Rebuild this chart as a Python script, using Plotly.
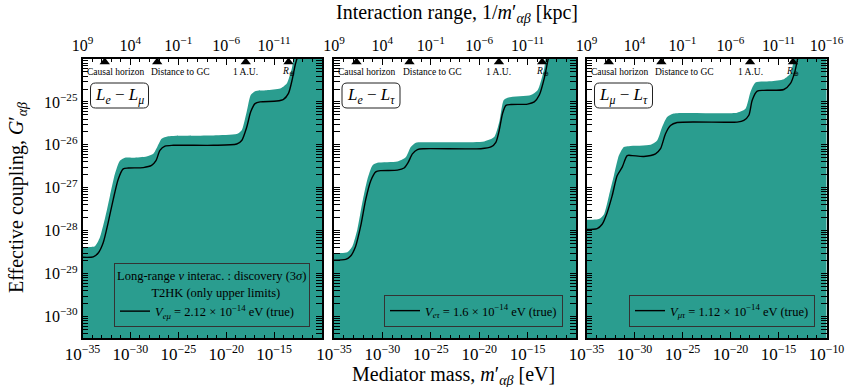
import math
import plotly.graph_objects as go

# ---- axis ranges (log10 units) ----
LOGM_RANGE = [-35, -10]      # mediator mass [eV]
LOGG_RANGE = [-30.5, -24]    # effective coupling
KPC_RANGE = [9, -16]         # interaction range [kpc]

# ---- L_e - L_mu ----
em_line_logm = [-35, -33.88, -33.36, -32.84, -32.32, -31.79, -31.27, -30.75, -30.23, -28.66, -27.79,
                -27.33, -26.92, -26.39, -25.52, -21.34, -18.90, -18.38, -17.86, -17.44, -16.99, -16.46,
                -14.72, -14.02, -13.50, -13.08, -12.80, -12.56]
em_line_logG = [-28.62, -28.61, -28.52, -28.28, -27.81, -27.27, -26.80, -26.56, -26.54, -26.53, -26.48,
                -26.37, -26.13, -26.03, -26.01, -26.01, -25.98, -25.90, -25.59, -25.23, -25.04, -25.00,
                -24.98, -24.94, -24.80, -24.45, -24.14, -23.95]
em_band_logm = [-35, -33.70, -33.19, -32.67, -32.14, -31.62, -31.10, -30.57, -29.70, -28.31, -27.61,
                -27.20, -26.74, -26.05, -21.34, -18.90, -18.38, -17.86, -17.44, -16.99, -15.77, -14.37,
                -13.68, -13.15, -12.80]
em_band_logG = [-28.38, -28.36, -28.16, -27.73, -27.19, -26.68, -26.37, -26.30, -26.30, -26.27, -26.21,
                -26.05, -25.86, -25.80, -25.78, -25.75, -25.66, -25.23, -24.84, -24.75, -24.73, -24.69,
                -24.57, -24.22, -23.90]

# ---- L_e - L_tau ----
et_line_logm = [-35, -33.79, -33.28, -32.76, -32.24, -31.72, -31.21, -30.69, -30.17, -28.45, -27.76,
                -27.34, -26.90, -26.38, -25.69, -19.83, -18.79, -18.28, -17.93, -17.59, -17.24, -16.72,
                -15.00, -14.31, -13.79, -13.28, -12.93, -12.76]
et_line_logG = [-28.69, -28.67, -28.59, -28.36, -27.89, -27.27, -26.84, -26.63, -26.60, -26.59, -26.54,
                -26.41, -26.21, -26.11, -26.09, -26.09, -26.05, -25.94, -25.66, -25.27, -25.08, -25.06,
                -25.05, -25.00, -24.84, -24.45, -24.06, -23.90]
et_band_logm = [-35, -33.62, -33.10, -32.59, -32.07, -31.55, -31.03, -30.52, -28.45, -27.59, -27.07,
                -26.55, -25.00, -19.48, -18.45, -17.93, -17.48, -17.07, -14.66, -13.97, -13.28, -13.00]
et_band_logG = [-28.52, -28.50, -28.36, -27.97, -27.34, -26.80, -26.48, -26.42, -26.39, -26.29, -26.05,
                -25.95, -25.94, -25.92, -25.82, -25.47, -24.96, -24.90, -24.84, -24.73, -24.22, -23.90]

# ---- L_mu - L_tau ----
mt_line_logm = [-35, -33.89, -33.37, -32.85, -32.33, -31.81, -31.28, -30.76, -30.24, -29.03, -27.81,
                -27.29, -26.77, -26.25, -25.56, -19.31, -18.61, -18.09, -17.74, -17.22, -16.53, -14.44,
                -13.75, -13.30, -12.99, -12.88]
mt_line_logG = [-27.97, -27.95, -27.85, -27.58, -27.19, -26.72, -26.52, -26.25, -26.25, -26.27, -26.21,
                -26.09, -25.74, -25.55, -25.48, -25.47, -25.43, -25.31, -24.96, -24.75, -24.73, -24.71,
                -24.57, -24.30, -23.98, -23.90]
mt_band_logm = [-35, -33.72, -33.19, -32.67, -32.15, -31.63, -31.11, -30.59, -28.33, -27.64, -27.13,
                -26.60, -25.90, -19.31, -18.44, -17.92, -17.40, -15.83, -14.44, -13.75, -13.22]
mt_band_logG = [-27.75, -27.73, -27.62, -27.19, -26.72, -26.25, -26.05, -26.03, -26.00, -25.90, -25.59,
                -25.35, -25.27, -25.25, -25.16, -24.77, -24.55, -24.52, -24.47, -24.34, -23.96]

panel_titles = ["<i>L<sub>e</sub></i> − <i>L<sub>μ</sub></i>",
                "<i>L<sub>e</sub></i> − <i>L<sub>τ</sub></i>",
                "<i>L<sub>μ</sub></i> − <i>L<sub>τ</sub></i>"]
legend_labels = ["<i>V<sub>eμ</sub></i> = 2.12 × 10<sup>−14</sup> eV (true)",
                 "<i>V<sub>eτ</sub></i> = 1.6 × 10<sup>−14</sup> eV (true)",
                 "<i>V<sub>μτ</sub></i> = 1.12 × 10<sup>−14</sup> eV (true)"]
legend_title = ("Long-range <i>ν</i> interac. : discovery (3<i>σ</i>)<br>"
                + "\u00a0" * 11 + "T2HK (only upper limits)")

# reference scales shown on the top of each panel (mediator mass equivalent, eV)
ref_names = ["Causal horizon", "Distance to GC", "1 A.U.", "<i>R</i><sub>⊕</sub>"]
ref_mass_eV = [2.1e-33, 6.3e-28, 1.1e-18, 3.2e-14]
ref_label_shift = [11, 23, 0, 0]

x_ticks = [-35, -30, -25, -20, -15, -10]
y_ticks = [-30, -29, -28, -27, -26, -25]
kpc_ticks = [9, 4, -1, -6, -11, -16]

TEAL = "#2a9d8f"
FONT = "Liberation Serif"
W, H = 847, 387

panels = [
    (em_line_logm, em_line_logG, em_band_logm, em_band_logG),
    (et_line_logm, et_line_logG, et_band_logm, et_band_logG),
    (mt_line_logm, mt_line_logG, mt_band_logm, mt_band_logG),
]
panel_px = [(82.5, 322.0), (334.0, 576.0), (586.5, 826.5)]
top_px, bot_px = 59.0, 338.0
legend_right_px = [310, 563, 815]


def sup_label(k):
    return "10<sup>" + (str(k).replace("-", "−")) + "</sup>"


def px(v):
    return v / W


def py(v):
    return 1 - v / H


fig = go.Figure()

for i, (lx, ly, bx, by) in enumerate(panels):
    xa = "x" if i == 0 else f"x{i + 1}"
    ya = "y" if i == 0 else f"y{i + 1}"
    lg = "legend" if i == 0 else f"legend{i + 1}"
    last = (i == 2)

    # discovery region: from the upper boundary down past the bottom of the axes
    x_lo, x_hi = LOGM_RANGE[0] - 1, LOGM_RANGE[1] + 1
    y_lo = LOGG_RANGE[0] - 1
    poly_x = [x_lo] + bx + [x_hi, x_hi, x_lo]
    poly_y = [by[0]] + by + [by[-1] + 0.4, y_lo, y_lo]
    fig.add_trace(go.Scatter(
        x=[10 ** v for v in poly_x], y=[10 ** v for v in poly_y],
        mode="lines", fill="toself", fillcolor=TEAL,
        line=dict(width=0, color=TEAL, shape="spline", smoothing=0.6),
        showlegend=False, hoverinfo="skip", xaxis=xa, yaxis=ya))

    # coupling for the true potential
    fig.add_trace(go.Scatter(
        x=[10 ** v for v in lx], y=[10 ** v for v in ly],
        mode="lines", line=dict(color="black", width=1.4, shape="spline", smoothing=0.7),
        name=legend_labels[i], legend=lg, xaxis=xa, yaxis=ya))

    # reference-scale markers
    fig.add_trace(go.Scatter(
        x=ref_mass_eV, y=[10 ** (LOGG_RANGE[1] - 0.07)] * len(ref_mass_eV),
        mode="markers", marker=dict(symbol="triangle-up", size=9, color="black"),
        cliponaxis=False, showlegend=False, hoverinfo="skip", xaxis=xa, yaxis=ya))
    for name, m, sh in zip(ref_names, ref_mass_eV, ref_label_shift):
        fig.add_annotation(x=math.log10(m), y=LOGG_RANGE[1] - 0.3, xref=xa, yref=ya,
                           text=name, showarrow=False, xshift=sh,
                           xanchor="center", yanchor="middle",
                           font=dict(family=FONT, size=9.5, color="black"))

    x0, x1 = panel_px[i]
    dom_x = [px(x0), px(x1)]
    dom_y = [py(bot_px), py(top_px)]

    xkey = "xaxis" if i == 0 else f"xaxis{i + 1}"
    ykey = "yaxis" if i == 0 else f"yaxis{i + 1}"
    tkey = f"xaxis{i + 4}"

    xt = x_ticks if last else x_ticks[:-1]
    kt = kpc_ticks if last else kpc_ticks[:-1]

    fig.layout[xkey] = dict(
        type="log", range=LOGM_RANGE, domain=dom_x, anchor=ya, automargin=False,
        tickvals=[10 ** k for k in xt], ticktext=[sup_label(k) for k in xt],
        ticks="inside", ticklen=6, tickwidth=1, tickcolor="black",
        minor=dict(ticks="inside", ticklen=3, tickcolor="black",
                   tickvals=[10 ** k for k in range(LOGM_RANGE[0], LOGM_RANGE[1] + 1)]),
        showline=True, linecolor="black", linewidth=1.6, showgrid=False, zeroline=False,
        tickfont=dict(family=FONT, size=17, color="black"))
    fig.layout[ykey] = dict(
        type="log", range=LOGG_RANGE, domain=dom_y, anchor=xa, automargin=False,
        tickvals=[10 ** k for k in y_ticks], ticktext=[sup_label(k) for k in y_ticks],
        showticklabels=(i == 0),
        ticks="inside", ticklen=6, tickwidth=1, tickcolor="black",
        minor=dict(ticks="inside", ticklen=3, tickcolor="black",
                   tickvals=[m * 10 ** k for k in range(-31, -24) for m in range(2, 10)]),
        showline=True, linecolor="black", linewidth=1.6, mirror="allticks",
        showgrid=False, zeroline=False,
        tickfont=dict(family=FONT, size=16, color="black"))
    fig.layout[tkey] = dict(
        type="log", range=KPC_RANGE, overlaying=xa, anchor=ya, side="top", automargin=False,
        tickvals=[10 ** k for k in kt], ticktext=[sup_label(k) for k in kt],
        ticks="inside", ticklen=6, tickwidth=1, tickcolor="black",
        minor=dict(ticks="inside", ticklen=3, tickcolor="black",
                   tickvals=[10 ** k for k in range(KPC_RANGE[1], KPC_RANGE[0] + 1)]),
        showline=True, linecolor="black", linewidth=1.6, showgrid=False, zeroline=False,
        tickfont=dict(family=FONT, size=16, color="black"))

    fig.layout[lg] = dict(
        x=px(legend_right_px[i]), y=py(327), xanchor="right", yanchor="bottom",
        bgcolor="rgba(0,0,0,0)", bordercolor="#333", borderwidth=1,
        font=dict(family=FONT, size=12.5, color="black"),
        itemwidth=30, tracegroupgap=0)
    if i == 0:
        fig.layout[lg].title = dict(text=legend_title, side="top",
                                    font=dict(family=FONT, size=12.5, color="black"))

    # panel tag with rounded box
    bx0, bx1 = x0 + 8, x0 + 66
    by0, by1 = top_px + 24, top_px + 49
    r = 5
    path = (f"M {px(bx0 + r)},{py(by0)} L {px(bx1 - r)},{py(by0)} "
            f"Q {px(bx1)},{py(by0)} {px(bx1)},{py(by0 + r)} L {px(bx1)},{py(by1 - r)} "
            f"Q {px(bx1)},{py(by1)} {px(bx1 - r)},{py(by1)} L {px(bx0 + r)},{py(by1)} "
            f"Q {px(bx0)},{py(by1)} {px(bx0)},{py(by1 - r)} L {px(bx0)},{py(by0 + r)} "
            f"Q {px(bx0)},{py(by0)} {px(bx0 + r)},{py(by0)} Z")
    fig.add_shape(type="path", path=path, xref="paper", yref="paper",
                  line=dict(color="#222", width=1), fillcolor="white", layer="between")
    fig.add_annotation(x=px((bx0 + bx1) / 2), y=py((by0 + by1) / 2), xref="paper", yref="paper",
                       text=panel_titles[i], showarrow=False,
                       xanchor="center", yanchor="middle",
                       font=dict(family=FONT, size=17, color="black"))

# invisible traces so the top axes are created
for i in range(3):
    fig.add_trace(go.Scatter(x=[10 ** KPC_RANGE[0]], y=[10 ** LOGG_RANGE[0]], mode="markers",
                             marker=dict(opacity=0), showlegend=False, hoverinfo="skip",
                             xaxis=f"x{i + 4}", yaxis="y" if i == 0 else f"y{i + 1}"))

fig.add_annotation(x=px(457), y=py(14), xref="paper", yref="paper", showarrow=False,
                   xanchor="center", yanchor="middle",
                   text="Interaction range, 1/<i>m</i>′<sub><i>αβ</i></sub> [kpc]",
                   font=dict(family=FONT, size=20, color="black"))
fig.add_annotation(x=px(453), y=py(375), xref="paper", yref="paper", showarrow=False,
                   xanchor="center", yanchor="middle",
                   text="Mediator mass, <i>m</i>′<sub><i>αβ</i></sub> [eV]",
                   font=dict(family=FONT, size=20, color="black"))
fig.add_annotation(x=px(17), y=py(198), xref="paper", yref="paper", showarrow=False,
                   xanchor="center", yanchor="middle",
                   text="Effective coupling, <i>G</i>′<sub><i>αβ</i></sub>", textangle=-90,
                   font=dict(family=FONT, size=20, color="black"))

fig.update_layout(width=W, height=H, margin=dict(l=0, r=0, t=0, b=0, autoexpand=False),
                  paper_bgcolor="white", plot_bgcolor="white", showlegend=True)

fig.write_html("out.html")
